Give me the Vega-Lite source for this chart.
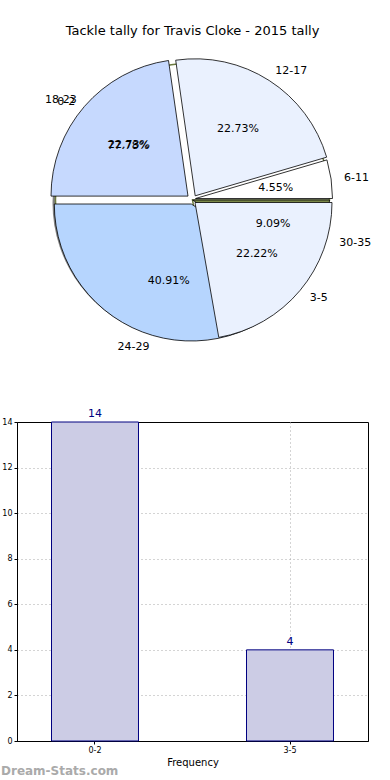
{
  "$schema": "https://vega.github.io/schema/vega-lite/v6.json",
  "padding": {"left": -12, "top": 25, "right": 0, "bottom": 0},
  "spacing": 72,
  "bounds": "flush",
  "datasets": {
    "pieA": [
      {"label": "6-11", "value": 1, "idx": 1, "pct": 0.0455},
      {"label": "12-17", "value": 5, "idx": 2, "pct": 0.2273},
      {"label": "18-23", "value": 5, "idx": 3, "pct": 0.2273},
      {"label": "24-29", "value": 9, "idx": 4, "pct": 0.4091},
      {"label": "30-35", "value": 2, "idx": 5, "pct": 0.0909}
    ],
    "pieB": [
      {"label": "0-2", "value": 14, "idx": 1, "pct": 0.7778},
      {"label": "3-5", "value": 4, "idx": 2, "pct": 0.2222}
    ],
    "bars": [
      {"label": "0-2", "value": 14},
      {"label": "3-5", "value": 4}
    ]
  },
  "config": {
    "font": "DejaVu Sans",
    "view": {"stroke": "#000", "strokeWidth": 1},
    "axis": {
      "labelFontSize": 8,
      "labelColor": "#000",
      "titleFontSize": 10,
      "titleFontWeight": "normal",
      "titleColor": "#000",
      "domainColor": "#000",
      "tickColor": "#000",
      "tickSize": 3,
      "labelPadding": 2,
      "gridColor": "#a8a8a8",
      "gridDash": [1, 3],
      "gridWidth": 1
    }
  },
  "vconcat": [
    {
      "width": 351,
      "height": 300,
      "view": {"stroke": null},
      "title": {
        "text": "Tackle tally for Travis Cloke - 2015 tally",
        "fontSize": 13,
        "fontWeight": "normal",
        "color": "#000",
        "anchor": "middle",
        "offset": 12
      },
      "layer": [
        {
          "data": {"name": "pieA"},
          "mark": {"type": "arc", "outerRadius": 137, "fill": "#808080", "xOffset": -3, "yOffset": 3},
          "encoding": {
            "theta": {"field": "value", "type": "quantitative", "stack": "normalize", "scale": {"domain": [0, 1], "range": [1.5708, -4.7124]}},
            "order": {"field": "idx", "type": "quantitative"}
          }
        },
        {
          "data": {"name": "pieA"},
          "mark": {"type": "arc", "outerRadius": 137, "fill": "#ffffff", "stroke": "#ffffff", "strokeWidth": 1},
          "encoding": {
            "theta": {"field": "value", "type": "quantitative", "stack": "normalize", "scale": {"domain": [0, 1], "range": [1.5708, -4.7124]}},
            "order": {"field": "idx", "type": "quantitative"}
          }
        },
        {
          "data": {"name": "pieB"},
          "transform": [
            {"stack": "value", "groupby": [], "sort": [{"field": "idx", "order": "ascending"}], "offset": "normalize", "as": ["s0", "s1"]},
            {"filter": "datum.label == '0-2'"}
          ],
          "mark": {"type": "arc", "outerRadius": 137, "fillOpacity": 0, "stroke": "#6b7a40", "strokeWidth": 1.5},
          "encoding": {
            "theta": {"field": "s0", "type": "quantitative", "stack": null, "scale": {"domain": [0, 1], "range": [1.5708, -4.7124]}},
            "theta2": {"field": "s1"}
          }
        },
        {
          "data": {"name": "pieA"},
          "transform": [
            {"stack": "value", "groupby": [], "sort": [{"field": "idx", "order": "ascending"}], "offset": "normalize", "as": ["s0", "s1"]},
            {"filter": "datum.label == '30-35'"}
          ],
          "mark": {"type": "arc", "outerRadius": 137, "stroke": "#000", "strokeWidth": 0.8},
          "encoding": {
            "theta": {"field": "s0", "type": "quantitative", "stack": null, "scale": {"domain": [0, 1], "range": [1.5708, -4.7124]}},
            "theta2": {"field": "s1"},
            "color": {"field": "label", "type": "nominal", "legend": null, "scale": {"domain": ["6-11", "12-17", "18-23", "24-29", "30-35", "3-5"], "range": ["#ffffff", "#eaf1fe", "#c6d9fe", "#b6d5fe", "#7c8a4a", "#eaf1fe"]}}
          }
        },
        {
          "data": {"name": "pieA"},
          "transform": [
            {"stack": "value", "groupby": [], "sort": [{"field": "idx", "order": "ascending"}], "offset": "normalize", "as": ["s0", "s1"]},
            {"filter": "datum.label == '6-11'"}
          ],
          "mark": {"type": "arc", "outerRadius": 137, "stroke": "#000", "strokeWidth": 0.8, "xOffset": 3, "yOffset": -1.5},
          "encoding": {
            "theta": {"field": "s0", "type": "quantitative", "stack": null, "scale": {"domain": [0, 1], "range": [1.5708, -4.7124]}},
            "theta2": {"field": "s1"},
            "color": {"field": "label", "type": "nominal", "legend": null, "scale": {"domain": ["6-11", "12-17", "18-23", "24-29", "30-35", "3-5"], "range": ["#ffffff", "#eaf1fe", "#c6d9fe", "#b6d5fe", "#7c8a4a", "#eaf1fe"]}}
          }
        },
        {
          "data": {"name": "pieA"},
          "transform": [
            {"stack": "value", "groupby": [], "sort": [{"field": "idx", "order": "ascending"}], "offset": "normalize", "as": ["s0", "s1"]},
            {"filter": "datum.label == '12-17'"}
          ],
          "mark": {"type": "arc", "outerRadius": 137, "stroke": "#000", "strokeWidth": 0.8, "xOffset": 2.7, "yOffset": -4.2},
          "encoding": {
            "theta": {"field": "s0", "type": "quantitative", "stack": null, "scale": {"domain": [0, 1], "range": [1.5708, -4.7124]}},
            "theta2": {"field": "s1"},
            "color": {"field": "label", "type": "nominal", "legend": null, "scale": {"domain": ["6-11", "12-17", "18-23", "24-29", "30-35", "3-5"], "range": ["#ffffff", "#eaf1fe", "#c6d9fe", "#b6d5fe", "#7c8a4a", "#eaf1fe"]}}
          }
        },
        {
          "data": {"name": "pieA"},
          "transform": [
            {"stack": "value", "groupby": [], "sort": [{"field": "idx", "order": "ascending"}], "offset": "normalize", "as": ["s0", "s1"]},
            {"filter": "datum.label == '18-23'"}
          ],
          "mark": {"type": "arc", "outerRadius": 137, "stroke": "#000", "strokeWidth": 0.8, "xOffset": -4.5, "yOffset": -3.9},
          "encoding": {
            "theta": {"field": "s0", "type": "quantitative", "stack": null, "scale": {"domain": [0, 1], "range": [1.5708, -4.7124]}},
            "theta2": {"field": "s1"},
            "color": {"field": "label", "type": "nominal", "legend": null, "scale": {"domain": ["6-11", "12-17", "18-23", "24-29", "30-35", "3-5"], "range": ["#ffffff", "#eaf1fe", "#c6d9fe", "#b6d5fe", "#7c8a4a", "#eaf1fe"]}}
          }
        },
        {
          "data": {"name": "pieA"},
          "transform": [
            {"stack": "value", "groupby": [], "sort": [{"field": "idx", "order": "ascending"}], "offset": "normalize", "as": ["s0", "s1"]},
            {"filter": "datum.label == '24-29'"}
          ],
          "mark": {"type": "arc", "outerRadius": 137, "stroke": "#000", "strokeWidth": 0.8, "xOffset": -1.2, "yOffset": 4},
          "encoding": {
            "theta": {"field": "s0", "type": "quantitative", "stack": null, "scale": {"domain": [0, 1], "range": [1.5708, -4.7124]}},
            "theta2": {"field": "s1"},
            "color": {"field": "label", "type": "nominal", "legend": null, "scale": {"domain": ["6-11", "12-17", "18-23", "24-29", "30-35", "3-5"], "range": ["#ffffff", "#eaf1fe", "#c6d9fe", "#b6d5fe", "#7c8a4a", "#eaf1fe"]}}
          }
        },
        {
          "data": {"name": "pieB"},
          "transform": [
            {"stack": "value", "groupby": [], "sort": [{"field": "idx", "order": "ascending"}], "offset": "normalize", "as": ["s0", "s1"]},
            {"filter": "datum.label == '3-5'"}
          ],
          "mark": {"type": "arc", "outerRadius": 137, "stroke": "#000", "strokeWidth": 0.8, "xOffset": 2.5, "yOffset": 2.5},
          "encoding": {
            "theta": {"field": "s0", "type": "quantitative", "stack": null, "scale": {"domain": [0, 1], "range": [1.5708, -4.7124]}},
            "theta2": {"field": "s1"},
            "color": {"field": "label", "type": "nominal", "legend": null, "scale": {"domain": ["6-11", "12-17", "18-23", "24-29", "30-35", "3-5"], "range": ["#ffffff", "#eaf1fe", "#c6d9fe", "#b6d5fe", "#7c8a4a", "#eaf1fe"]}}
          }
        },
        {
          "data": {"name": "pieA"},
          "mark": {"type": "text", "radius": 84, "fontSize": 11, "color": "#000"},
          "encoding": {
            "theta": {"field": "value", "type": "quantitative", "stack": "normalize", "scale": {"domain": [0, 1], "range": [1.5708, -4.7124]}},
            "order": {"field": "idx", "type": "quantitative"},
            "text": {"field": "pct", "type": "quantitative", "format": ".2%"}
          }
        },
        {
          "data": {"name": "pieA"},
          "mark": {"type": "text", "radius": 153, "fontSize": 11, "color": "#000", "align": "left", "baseline": "middle"},
          "encoding": {
            "theta": {"field": "value", "type": "quantitative", "stack": "normalize", "scale": {"domain": [0, 1], "range": [1.5708, -4.7124]}},
            "order": {"field": "idx", "type": "quantitative"},
            "text": {"condition": {"test": "indexof(['6-11','12-17','30-35'], datum.label) >= 0", "field": "label"}, "value": ""}
          }
        },
        {
          "data": {"name": "pieA"},
          "mark": {"type": "text", "radius": 153, "fontSize": 11, "color": "#000", "align": "right", "baseline": "middle"},
          "encoding": {
            "theta": {"field": "value", "type": "quantitative", "stack": "normalize", "scale": {"domain": [0, 1], "range": [1.5708, -4.7124]}},
            "order": {"field": "idx", "type": "quantitative"},
            "text": {"condition": {"test": "indexof(['18-23','24-29'], datum.label) >= 0", "field": "label"}, "value": ""}
          }
        },
        {
          "data": {"name": "pieB"},
          "mark": {"type": "text", "radius": 84, "fontSize": 11, "color": "#000"},
          "encoding": {
            "theta": {"field": "value", "type": "quantitative", "stack": "normalize", "scale": {"domain": [0, 1], "range": [1.5708, -4.7124]}},
            "order": {"field": "idx", "type": "quantitative"},
            "text": {"field": "pct", "type": "quantitative", "format": ".2%"}
          }
        },
        {
          "data": {"name": "pieB"},
          "mark": {"type": "text", "radius": 153, "fontSize": 11, "color": "#000", "align": "left", "baseline": "middle"},
          "encoding": {
            "theta": {"field": "value", "type": "quantitative", "stack": "normalize", "scale": {"domain": [0, 1], "range": [1.5708, -4.7124]}},
            "order": {"field": "idx", "type": "quantitative"},
            "text": {"condition": {"test": "datum.label == '3-5'", "field": "label"}, "value": ""}
          }
        },
        {
          "data": {"name": "pieB"},
          "mark": {"type": "text", "radius": 153, "fontSize": 11, "color": "#000", "align": "right", "baseline": "middle"},
          "encoding": {
            "theta": {"field": "value", "type": "quantitative", "stack": "normalize", "scale": {"domain": [0, 1], "range": [1.5708, -4.7124]}},
            "order": {"field": "idx", "type": "quantitative"},
            "text": {"condition": {"test": "datum.label == '0-2'", "field": "label"}, "value": ""}
          }
        }
      ]
    },
    {
      "width": 351,
      "height": 319,
      "data": {"name": "bars"},
      "title": {
        "text": "Dream-Stats.com",
        "orient": "bottom",
        "anchor": "start",
        "frame": "group",
        "dx": -16,
        "offset": -1,
        "fontSize": 12,
        "fontWeight": "bold",
        "color": "#aaaaaa"
      },
      "encoding": {
        "x": {
          "field": "label",
          "type": "nominal",
          "scale": {"paddingInner": 0.554, "paddingOuter": 0.177},
          "axis": {"title": "Frequency", "labelAngle": 0, "grid": true, "bandPosition": 0.5, "titlePadding": 3}
        },
        "y": {
          "field": "value",
          "type": "quantitative",
          "scale": {"domain": [0, 14]},
          "axis": {
            "title": "Number of Games",
            "values": [0, 2, 4, 6, 8, 10, 12, 14],
            "titlePadding": 3,
            "gridOpacity": {"condition": {"test": "datum.value == 14 || datum.value == 0", "value": 0}, "value": 1}
          }
        }
      },
      "layer": [
        {"mark": {"type": "bar", "fill": "#ccccE5", "stroke": "#000080", "strokeWidth": 1}},
        {"mark": {"type": "text", "baseline": "bottom", "dy": -3, "fontSize": 11, "color": "#000080"}, "encoding": {"text": {"field": "value", "type": "quantitative"}}}
      ]
    }
  ]
}
